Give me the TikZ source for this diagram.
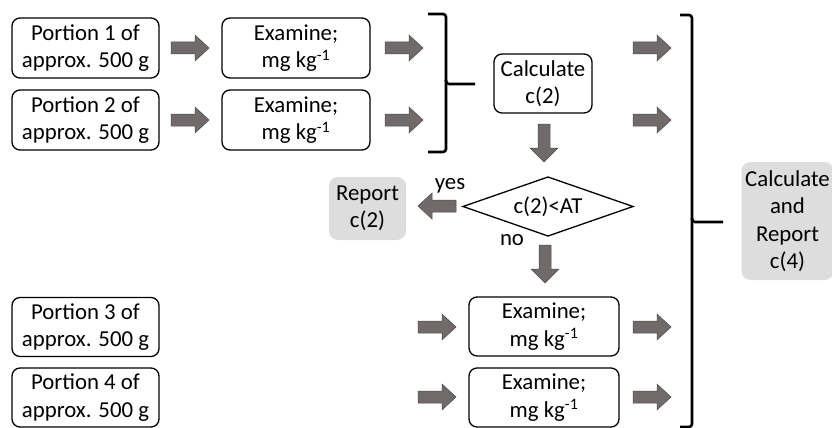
\documentclass[tikz,border=0pt]{standalone}
\usepackage{fontspec}
\setmainfont{Carlito}
\begin{document}
\begin{tikzpicture}[x=1pt,y=-1pt,
  box/.style={draw=black, line width=1.3pt, rounded corners=8pt, align=center, inner sep=0pt, font=\fontsize{22.8}{27.5}\selectfont},
  graybox/.style={fill=boxgray, rounded corners=9pt, align=center, inner sep=0pt, font=\fontsize{22.8}{27.5}\selectfont},
  lbl/.style={font=\fontsize{22.8}{27.5}\selectfont, inner sep=0pt},
  brace/.style={draw=black, line width=2.6pt, rounded corners=3pt},
  blk/.style={fill=arrgray, draw=arrgray!70!black, line width=0.5pt},
  rarr/.pic={\path[blk] (0,-6) -- (24,-6) -- (24,-13) -- (38,0) -- (24,13) -- (24,6) -- (0,6) -- cycle;},
  larr/.pic={\path[blk] (0,-6) -- (-24,-6) -- (-24,-13) -- (-38,0) -- (-24,13) -- (-24,6) -- (0,6) -- cycle;},
  darr/.pic={\path[blk] (-6,0) -- (-6,24) -- (-14,24) -- (0,38) -- (14,24) -- (6,24) -- (6,0) -- cycle;}
]
\definecolor{arrgray}{RGB}{112,106,106}
\definecolor{boxgray}{RGB}{221,221,221}
\useasboundingbox (0,0) rectangle (832,428);

% portions
\node[box, minimum width=147pt, minimum height=60pt] (p1) at (85.5,48) {Portion 1 of\\approx. 500 g};
\node[box, minimum width=147pt, minimum height=60pt] (p2) at (85.5,120) {Portion 2 of\\approx. 500 g};
\node[box, minimum width=147pt, minimum height=59pt] (p3) at (85.5,327) {Portion 3 of\\approx. 500 g};
\node[box, minimum width=147pt, minimum height=59pt] (p4) at (85.5,397.5) {Portion 4 of\\approx. 500 g};

% examine
\node[box, minimum width=148pt, minimum height=60pt] (e1) at (296,48) {Examine;\\mg kg\textsuperscript{-1}};
\node[box, minimum width=148pt, minimum height=60pt] (e2) at (296,120) {Examine;\\mg kg\textsuperscript{-1}};
\node[box, minimum width=150pt, minimum height=59pt] (e3) at (544,326.5) {Examine;\\mg kg\textsuperscript{-1}};
\node[box, minimum width=150pt, minimum height=59pt] (e4) at (544,397.5) {Examine;\\mg kg\textsuperscript{-1}};

% calculate c(2)
\node[box, minimum width=98pt, minimum height=59pt] (c2) at (543,83.5) {Calculate\\c(2)};

% decision
\node[lbl] (dia) at (548,206.5) {c(2)<AT};
\draw[line width=1.3pt] ([xshift=-85pt]dia.center) -- ([yshift=-29.5pt]dia.center) -- ([xshift=85pt]dia.center) -- ([yshift=29.5pt]dia.center) -- cycle;
\node[lbl] (yes) at (450,186) {yes};
\node[lbl] (no) at (512,240) {no};

% report c(2)
\node[graybox, minimum width=77pt, minimum height=63pt] (r2) at (367.5,208.5) {Report\\c(2)};

% calculate and report c(4)
\node[graybox, minimum width=92pt, minimum height=118pt] (c4) at (787.5,221) {Calculate\\and\\Report\\c(4)};

% block arrows
\pic at (171,48) {rarr};
\pic at (171,120) {rarr};
\pic at (385,48) {rarr};
\pic at (385,120) {rarr};
\pic at (633,48) {rarr};
\pic at (633,120) {rarr};
\pic at (418,327) {rarr};
\pic at (418,397) {rarr};
\pic at (633,327) {rarr};
\pic at (633,397) {rarr};
\pic at (544,124) {darr};
\pic at (545,245) {darr};
\pic at (456,206) {larr};

% braces
\coordinate (b1t) at (428,14);
\coordinate (b1b) at (428,152);
\coordinate (b1m) at (475,84);
\draw[brace] (b1t) -- (446,14) -- (446,84) -- (b1m);
\draw[brace] (446,80) -- (446,152) -- (b1b);
\coordinate (b2t) at (680,15);
\coordinate (b2b) at (680,427);
\coordinate (b2m) at (723,222);
\draw[brace] (b2t) -- (692,15) -- (692,222) -- (b2m);
\draw[brace] (692,218) -- (692,427) -- (b2b);
\end{tikzpicture}
\end{document}
